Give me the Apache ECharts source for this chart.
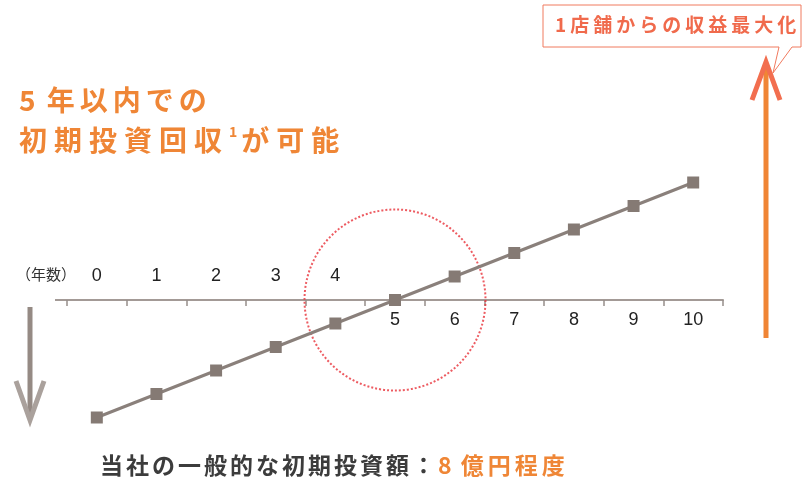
<!DOCTYPE html>
<html>
<head>
<meta charset="utf-8">
<script src="https://cdn.jsdelivr.net/npm/echarts@6/dist/echarts.min.js"></script>
<style>
	html, body { margin: 0; padding: 0; background: #fff; }
	#main { width: 807px; height: 482px; }
</style>
</head>
<body>
<div id="main"></div>
<script>
/* 年数（横軸カテゴリ） */
const years = ['0', '1', '2', '3', '4', '5', '6', '7', '8', '9', '10'];
/* 累積収支（億円イメージ） */
const balance = [-5, -4, -3, -2, -1, 0, 1, 2, 3, 4, 5];
/* 回収ポイント（赤い点線の円） */
const payback = [['5', 0]];
/* 上に出すラベル / 下に出すラベルの境目 */
const labelSplit = 5;

const cjk = '"Noto Sans CJK JP", "Noto Sans", sans-serif';
const orange = '#ef8636';
const axisGray = '#a39a96';

// 1文字ずつ rich トークンにして字間を空ける（空白はそのまま）
function spread(str, key) {
	return str.split('').map(c => (c === ' ' ? '{sp| }' : '{' + key + '|' + c + '}')).join('');
}

let chart = echarts.init(document.getElementById('main'));

let option = {
	animation: false,
	// 軸は y=0 の位置（グリッド下端）に置き、マイナス側はグリッド外に描く
	grid: {
		left: 67,
		right: 84,
		top: 159,
		bottom: 182
	},
	xAxis: [
		{
			// 軸線・目盛・下側ラベル（5〜10）
			type: 'category',
			data: years,
			boundaryGap: true,
			axisLine: { onZero: false, lineStyle: { color: axisGray, width: 2 } },
			axisTick: { show: true, interval: 0, length: 6, lineStyle: { color: '#978e8a', width: 1.5 } },
			axisLabel: {
				interval: 0,
				margin: 11,
				fontSize: 18,
				color: '#222',
				fontFamily: '"Liberation Sans", Arial, sans-serif',
				formatter: (v, i) => (i >= labelSplit ? v : '')
			}
		},
		{
			// 上側ラベル（0〜4）
			type: 'category',
			data: years,
			position: 'bottom',
			boundaryGap: true,
			axisLine: { show: false, onZero: false },
			axisTick: { show: false },
			axisLabel: {
				inside: true,
				interval: 0,
				margin: 15,
				fontSize: 18,
				color: '#222',
				fontFamily: '"Liberation Sans", Arial, sans-serif',
				formatter: (v, i) => (i < labelSplit ? v : '')
			}
		}
	],
	yAxis: {
		type: 'value',
		min: 0,
		max: 6,
		show: false
	},
	series: [
		{
			type: 'scatter',
			xAxisIndex: 0,
			data: payback,
			symbol: 'circle',
			symbolSize: 181,
			silent: true,
			clip: false,
			itemStyle: {
				color: 'rgba(0,0,0,0)',
				borderColor: '#e8323a',
				borderWidth: 2,
				borderType: [2, 2]
			},
			z: 1
		},
		{
			type: 'line',
			xAxisIndex: 0,
			data: balance,
			clip: false,
			symbol: 'rect',
			symbolSize: 12,
			lineStyle: { color: '#8a807b', width: 3 },
			itemStyle: { color: '#857a74' },
			z: 3
		}
	],
	graphic: [
		// 軸線の左はみ出し分
		{
			type: 'line',
			shape: { x1: 55, y1: 300, x2: 68, y2: 300 },
			style: { stroke: axisGray, lineWidth: 2 }
		},
		// （年数）
		{
			type: 'text',
			left: 16,
			top: 267,
			style: { text: '（年数）', font: '15px ' + cjk, fill: '#333' }
		},
		// 見出し
		{
			type: 'text',
			left: 19,
			top: 86,
			style: {
				text: spread('5 年以内での', 'h') + '\n' + spread('初期投資回収', 't') + '{sup|1}' + spread('が可能', 't'),
				rich: {
					h: { fontSize: 28, fontWeight: 'bold', fontFamily: cjk, fill: orange, lineHeight: 40, padding: [0, 5, 0, 0] },
					t: { fontSize: 28, fontWeight: 'bold', fontFamily: cjk, fill: orange, lineHeight: 40, padding: [0, 7, 0, 0] },
					sp: { fontSize: 28, fontFamily: cjk, lineHeight: 40 },
					sup: { fontSize: 14, fontWeight: 'bold', fontFamily: cjk, fill: orange, lineHeight: 40, verticalAlign: 'top', padding: [5, 4, 0, 0] }
				}
			}
		},
		// 下の説明文
		{
			type: 'text',
			left: 100,
			top: 454,
			style: {
				text: spread('当社の一般的な初期投資額：', 'd') + spread('8', 'o') + '{gap| }' + spread('億円程度', 'o'),
				rich: {
					d: { fontSize: 23, fontWeight: 'bold', fontFamily: cjk, fill: '#3c3c3c', padding: [0, 3, 0, 0] },
					o: { fontSize: 23, fontWeight: 'bold', fontFamily: cjk, fill: orange, padding: [0, 4, 0, 0] },
					gap: { fontSize: 23, fontFamily: cjk }
				}
			}
		},
		// 下向き矢印（初期投資）
		{
			type: 'line',
			shape: { x1: 30, y1: 307, x2: 30, y2: 418 },
			style: { stroke: '#958a84', lineWidth: 5 }
		},
		{
			type: 'polyline',
			shape: { points: [[16, 381], [30, 420], [44, 381]] },
			style: { stroke: '#aaa19c', lineWidth: 5, fill: null }
		},
		// 上向き矢印（収益）
		{
			type: 'line',
			shape: { x1: 766, y1: 338, x2: 766, y2: 66 },
			style: { stroke: '#f08535', lineWidth: 5 }
		},
		// 吹き出し
		{
			type: 'polygon',
			shape: { points: [[543, 5], [801, 5], [801, 47], [792, 47], [773, 73], [779, 47], [543, 47]] },
			style: { fill: '#fff', stroke: '#f07a5e', lineWidth: 1 }
		},
		{
			type: 'polyline',
			shape: { points: [[752, 100], [766, 62], [780, 100]] },
			style: { stroke: '#f26e4f', lineWidth: 5, fill: null }
		},
		{
			type: 'text',
			left: 555,
			top: 15,
			style: {
				text: spread('1店舗からの収益最大化', 'c'),
				rich: {
					c: { fontSize: 19, fontWeight: 'bold', fontFamily: cjk, fill: '#f06a4c', padding: [0, 4, 0, 0] }
				}
			}
		}
	]
};

chart.setOption(option);
window.addEventListener('resize', () => chart.resize());
</script>
</body>
</html>
